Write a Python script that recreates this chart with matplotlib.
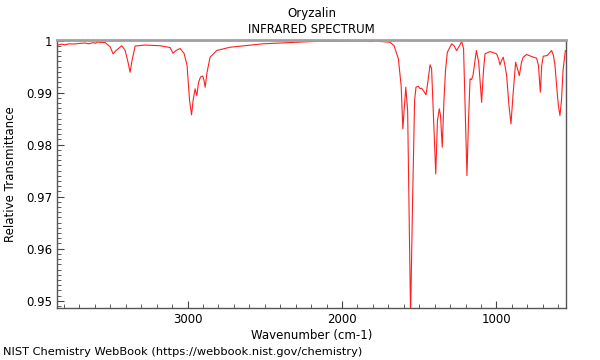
import matplotlib
matplotlib.use('Agg')
import matplotlib.pyplot as plt
from matplotlib.ticker import MultipleLocator

# Spectrum (wavenumber cm-1, relative transmittance)
wavenumber = [3840, 3815, 3793, 3770, 3728, 3700, 3663, 3640, 3610, 3598,
              3585, 3566, 3534, 3501, 3482, 3462,
              3426, 3404, 3385, 3372, 3359, 3339, 3275, 3178, 3113, 3094,
              3074, 3048, 3022, 3003, 2987, 2974, 2964, 2951, 2940, 2929,
              2916, 2901, 2893, 2886, 2874, 2854, 2811, 2725, 2511, 2187,
              1883, 1808, 1786, 1689, 1663, 1635, 1617, 1606, 1598, 1587,
              1575, 1556, 1543, 1530, 1521, 1506, 1495, 1484, 1469, 1456,
              1443, 1430, 1420, 1409, 1393, 1382, 1370, 1362, 1351, 1340,
              1330, 1318, 1290, 1275, 1258, 1243, 1225, 1213, 1204, 1191,
              1181, 1171, 1161, 1152, 1130, 1115, 1096, 1084, 1074, 1042,
              999, 987, 977, 967, 956, 945, 934, 919, 906, 893,
              876, 864, 852, 838, 827, 805, 772, 740, 728, 716,
              707, 697, 671, 654, 643, 631, 621, 608, 599, 589,
              579, 569, 554]
transmittance = [0.99913, 0.9993, 0.99918, 0.99935, 0.99933, 0.99945, 0.99952, 0.99938, 0.9996, 0.99945,
                 0.9997, 0.99967, 0.9996, 0.9988, 0.99744, 0.9981,
                 0.9990, 0.9981, 0.9958, 0.9939, 0.9962, 0.99894, 0.99913, 0.9990, 0.99865, 0.99756,
                 0.9981, 0.99846, 0.9975, 0.9952, 0.9885, 0.98571, 0.9885, 0.99071, 0.98942, 0.9919,
                 0.9930, 0.99317, 0.9923, 0.99102, 0.99385, 0.99679, 0.99808, 0.99871, 0.99937, 0.99981,
                 0.9999, 0.9998, 0.9999, 0.99967, 0.9990, 0.99648, 0.9913, 0.98302, 0.98654, 0.99102,
                 0.9865, 0.9470, 0.9692, 0.98846, 0.99102, 0.99121, 0.99077, 0.99083, 0.9902, 0.98956,
                 0.99231, 0.99533, 0.9946, 0.98654, 0.97437, 0.98462, 0.98687, 0.98558, 0.97948, 0.98846,
                 0.99423, 0.99775, 0.99937, 0.9990, 0.99808, 0.9988, 0.99981, 0.99846, 0.98846, 0.97404,
                 0.98462, 0.99263, 0.9925, 0.99327, 0.99808, 0.99583, 0.98813, 0.99423, 0.99744, 0.99788,
                 0.99744, 0.99654, 0.99533, 0.99615, 0.99679, 0.99519, 0.99327, 0.9875, 0.98398, 0.98942,
                 0.99583, 0.99462, 0.99327, 0.99577, 0.99679, 0.99731, 0.99692, 0.9966, 0.99519, 0.99006,
                 0.99519, 0.99698, 0.99712, 0.99769, 0.99808, 0.99712, 0.99519, 0.99038, 0.9875, 0.98558,
                 0.98846, 0.99423, 0.99808]

fig = plt.figure(figsize=(6, 3.6), dpi=100)
ax = fig.add_axes([0.0958, 0.1444, 0.8467, 0.7445])

ax.plot(wavenumber, transmittance, color='#ff2020', linewidth=0.8)

ax.set_xlim(3842, 553)
ax.set_ylim(0.9486, 1.0001)

ax.xaxis.set_major_locator(MultipleLocator(1000))
ax.xaxis.set_minor_locator(MultipleLocator(100))
ax.yaxis.set_major_locator(MultipleLocator(0.01))
ax.yaxis.set_minor_locator(MultipleLocator(0.001))
ax.yaxis.set_major_formatter(plt.FuncFormatter(lambda v, p: '1' if abs(v - 1) < 1e-9 else f'{v:.2f}'))

ax.tick_params(which='both', direction='in', colors='#444444', labelcolor='black', labelsize=8.5,
               top=False, right=False)
ax.tick_params(which='major', length=5)
ax.tick_params(which='minor', length=3)

for side in ['left', 'bottom', 'right']:
    ax.spines[side].set_color('#555555')
    ax.spines[side].set_linewidth(1.0)
ax.spines['top'].set_color('#a0a0a0')
ax.spines['top'].set_linewidth(2.0)

ax.set_xlabel('Wavenumber (cm-1)', fontsize=8.5, labelpad=2)
ax.set_ylabel('Relative Transmittance', fontsize=8.5, labelpad=7)

fig.text(0.519, 0.963, 'Oryzalin', ha='center', va='center', fontsize=8.5)
fig.text(0.519, 0.917, 'INFRARED SPECTRUM', ha='center', va='center', fontsize=8.5)
fig.text(0.005, 0.022, 'NIST Chemistry WebBook (https://webbook.nist.gov/chemistry)',
         ha='left', va='center', fontsize=8.2)

fig.savefig('out.png', dpi=100)
